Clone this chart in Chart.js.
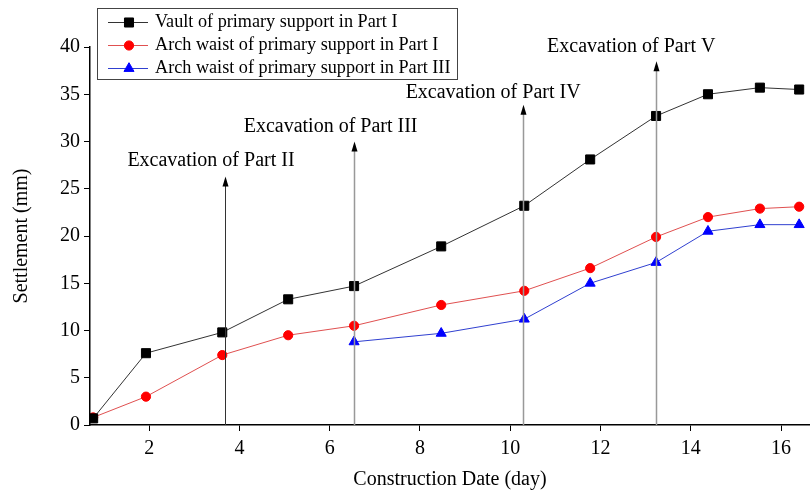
<!DOCTYPE html>
<html><head><meta charset="utf-8">
<script src="https://cdn.jsdelivr.net/npm/chart.js@4/dist/chart.umd.min.js"></script>
<style>html,body{margin:0;padding:0;background:#fff}#wrap{width:810px;height:492px}</style>
</head><body><div id="wrap"><canvas id="c" width="810" height="492"></canvas></div>
<script>
const days = [0.76, 1.93, 3.62, 5.08, 6.54, 8.47, 10.31, 11.77, 13.23, 14.38, 15.53, 16.4];
const vaultPartI = [0.7, 7.6, 9.8, 13.3, 14.7, 18.9, 23.2, 28.1, 32.7, 35.0, 35.7, 35.5];
const waistPartI = [0.8, 3.0, 7.4, 9.5, 10.5, 12.7, 14.2, 16.6, 19.9, 22.0, 22.9, 23.1];
const waistPartIIIDays = [6.54, 8.47, 10.31, 11.77, 13.23, 14.38, 15.53, 16.4];
const waistPartIII = [8.8, 9.7, 11.2, 15.0, 17.2, 20.5, 21.2, 21.2];
const seriesNames = ["Vault of primary support in Part I","Arch waist of primary support in Part I","Arch waist of primary support in Part III"];
const xTicks = [2, 4, 6, 8, 10, 12, 14, 16];
const eventLabels = ["Excavation of Part II","Excavation of Part III","Excavation of Part IV","Excavation of Part V"];
const eventDays = [3.67, 6.54, 10.28, 13.22];
const eventArrowTop = [26.3, 30.0, 33.9, 38.5];
const eventLabelDay = [3.37, 6.02, 9.62, 12.68];
const eventLabelY = [28.0, 31.6, 35.2, 40.0];

const FONT = "'Liberation Serif', 'Times New Roman', serif";
const toPts = (xs, ys) => xs.map((x, i) => ({x, y: ys[i]}));

const annot = {
  id: 'annot',
  beforeDraw(chart){
    const ctx = chart.ctx; ctx.save(); ctx.fillStyle='#fff'; ctx.fillRect(0,0,chart.width,chart.height); ctx.restore();
  },
  afterDatasetsDraw(chart) {
    const {ctx, scales:{x, y}} = chart;
    ctx.save();
    eventDays.forEach((d, i) => {
      const px = Math.round(x.getPixelForValue(d)) + 0.5;
      const y0 = y.getPixelForValue(0);
      const y1 = y.getPixelForValue(eventArrowTop[i]);
      ctx.strokeStyle = i === 0 ? '#333' : '#999';
      ctx.lineWidth = i === 0 ? 1 : 1.5;
      ctx.beginPath(); ctx.moveTo(px, y0); ctx.lineTo(px, y1 + 6); ctx.stroke();
      ctx.fillStyle = '#000';
      ctx.beginPath(); ctx.moveTo(px, y1); ctx.lineTo(px - 3, y1 + 10); ctx.lineTo(px + 3, y1 + 10); ctx.closePath(); ctx.fill();
      ctx.font = '20px ' + FONT;
      ctx.textAlign = 'center'; ctx.textBaseline = 'middle';
      ctx.fillText(eventLabels[i], x.getPixelForValue(eventLabelDay[i]), y.getPixelForValue(eventLabelY[i]));
    });
    ctx.restore();
  },
  afterDraw(chart) {
    const ctx = chart.ctx;
    ctx.save();
    const bx = 97, by = 8, bw = 360, bh = 71;
    ctx.fillStyle = '#fff'; ctx.fillRect(bx, by, bw, bh);
    ctx.strokeStyle = '#444'; ctx.lineWidth = 1;
    ctx.strokeRect(bx + 0.5, by + 0.5, bw, bh);
    chart.data.datasets.forEach((ds, i) => {
      const cy = 22 + i * 23;
      ctx.strokeStyle = ds.borderColor; ctx.lineWidth = 1;
      ctx.beginPath(); ctx.moveTo(108, cy + 0.5); ctx.lineTo(148, cy + 0.5); ctx.stroke();
      ctx.fillStyle = ds.pointBackgroundColor;
      ctx.strokeStyle = ds.pointBorderColor;
      ctx.lineWidth = 1;
      Chart.helpers.drawPoint(ctx, {pointStyle: ds.pointStyle, radius: ds.pointRadius, rotation: 0, borderWidth: 1}, 129, cy + 0.5);
      ctx.fillStyle = '#000';
      ctx.font = '18.2px ' + FONT;
      ctx.textAlign = 'left'; ctx.textBaseline = 'middle';
      ctx.fillText(seriesNames[i], 155, cy);
    });
    ctx.restore();
  }
};

new Chart(document.getElementById('c'), {
  type: 'line',
  data: {
    datasets: [
      {label: seriesNames[0], data: toPts(days, vaultPartI), borderColor: '#333', borderWidth: 1,
       pointStyle: 'rect', pointRadius: 6.4, pointBackgroundColor: '#000', pointBorderColor: '#000', backgroundColor: '#000'},
      {label: seriesNames[1], data: toPts(days, waistPartI), borderColor: '#e05050', borderWidth: 1,
       pointStyle: 'circle', pointRadius: 4.6, pointBackgroundColor: '#ff0000', pointBorderColor: '#ff0000', backgroundColor: '#ff0000'},
      {label: seriesNames[2], data: toPts(waistPartIIIDays, waistPartIII), borderColor: '#3040d0', borderWidth: 1,
       pointStyle: 'triangle', pointRadius: 5.8, pointBackgroundColor: '#0000ff', pointBorderColor: '#0000ff', backgroundColor: '#0000ff'}
    ]
  },
  options: {
    responsive: false, animation: false,
    layout: {autoPadding: false, padding: {top: 47, right: 0, left: 0, bottom: 0}},
    plugins: {legend: {display: false}, tooltip: {enabled: false}},
    elements: {line: {tension: 0}},
    scales: {
      x: {
        type: 'linear', min: 0.69, max: 16.64,
        afterBuildTicks: s => { s.ticks = xTicks.map(v => ({value: v})); },
        afterFit: s => { s.height = 67; s.paddingRight = 0; s.paddingLeft = 0; },
        grid: {drawOnChartArea: false, drawTicks: true, tickLength: 6, tickColor: '#000'},
        border: {color: '#000', width: 1.5},
        ticks: {color: '#000', font: {family: FONT, size: 20}, padding: 6, maxRotation: 0},
        title: {display: true, text: 'Construction Date (day)', color: '#000', font: {family: FONT, size: 20}, padding: {top: 4, bottom: 0}}
      },
      y: {
        min: 0, max: 40,
        afterFit: s => { s.width = 90; s.paddingTop = 0; s.paddingBottom = 0; },
        grid: {drawOnChartArea: false, drawTicks: true, tickLength: 6, tickColor: '#000'},
        border: {color: '#000', width: 1.5},
        ticks: {stepSize: 5, color: '#000', font: {family: FONT, size: 20}, padding: 4},
        title: {display: true, text: 'Settlement (mm)', color: '#000', font: {family: FONT, size: 20}, padding: {top: 10}}
      }
    }
  },
  plugins: [annot]
});
</script>
</body></html>
